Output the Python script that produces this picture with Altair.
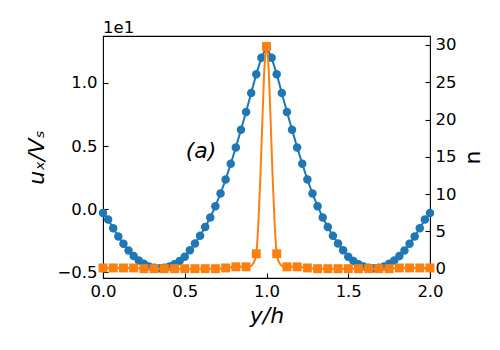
import altair as alt
import pandas as pd

# ---- data ----
blue_y = [0.0, 0.03125, 0.0625, 0.09375, 0.125, 0.15625, 0.1875, 0.21875, 0.25, 0.28125,
          0.3125, 0.34375, 0.375, 0.40625, 0.4375, 0.46875, 0.5, 0.53125, 0.5625, 0.59375,
          0.625, 0.65625, 0.6875, 0.71875, 0.75, 0.78125, 0.8125, 0.84375, 0.875, 0.90625,
          0.9375, 0.96875, 1.0, 1.03125, 1.0625, 1.09375, 1.125, 1.15625, 1.1875, 1.21875,
          1.25, 1.28125, 1.3125, 1.34375, 1.375, 1.40625, 1.4375, 1.46875, 1.5, 1.53125,
          1.5625, 1.59375, 1.625, 1.65625, 1.6875, 1.71875, 1.75, 1.78125, 1.8125, 1.84375,
          1.875, 1.90625, 1.9375, 1.96875, 2.0]
blue_u = [-0.03, -0.08, -0.15, -0.215, -0.273, -0.326, -0.37, -0.405, -0.432, -0.452,
          -0.463, -0.467, -0.463, -0.453, -0.435, -0.41, -0.375, -0.325, -0.27, -0.21,
          -0.14, -0.065, 0.025, 0.125, 0.235, 0.36, 0.49, 0.63, 0.77, 0.92,
          1.07, 1.2, 1.285, 1.2, 1.07, 0.92, 0.77, 0.63, 0.49, 0.36,
          0.235, 0.125, 0.025, -0.065, -0.14, -0.21, -0.27, -0.325, -0.375, -0.41,
          -0.435, -0.453, -0.463, -0.467, -0.463, -0.452, -0.432, -0.405, -0.37, -0.326,
          -0.273, -0.215, -0.15, -0.08, -0.03]

sq_y = [0.0, 0.0625, 0.125, 0.1875, 0.25, 0.3125, 0.375, 0.4375, 0.5, 0.5625, 0.625,
        0.6875, 0.75, 0.8125, 0.875, 0.9375, 1.0, 1.0625, 1.125, 1.1875, 1.25, 1.3125,
        1.375, 1.4375, 1.5, 1.5625, 1.625, 1.6875, 1.75, 1.8125, 1.875, 1.9375, 2.0]
sq_n = [0.1, 0.1, 0.1, 0.1, 0.0, 0.0, 0.0, 0.0, 0.0, 0.0, 0.0,
        0.0, 0.1, 0.25, 0.25, 2.0, 29.8, 2.0, 0.25, 0.25, 0.1, 0.0,
        0.0, 0.0, 0.0, 0.0, 0.0, 0.0, 0.0, 0.1, 0.1, 0.1, 0.1]

line_y = [0.0, 0.0625, 0.125, 0.1875, 0.25, 0.3125, 0.375, 0.4375, 0.5, 0.5625, 0.625,
          0.6875, 0.75, 0.8125, 0.875, 0.9, 0.9125, 0.925, 0.9375, 0.95, 0.9625, 0.975,
          0.9875, 1.0, 1.0125, 1.025, 1.0375, 1.05, 1.0625, 1.075, 1.0875, 1.1, 1.125,
          1.1875, 1.25, 1.3125, 1.375, 1.4375, 1.5, 1.5625, 1.625, 1.6875, 1.75, 1.8125,
          1.875, 1.9375, 2.0]
line_n = [0.1, 0.1, 0.1, 0.1, 0.0, 0.0, 0.0, 0.0, 0.0, 0.0, 0.0,
          0.0, 0.1, 0.25, 0.25, 0.3, 0.5, 0.95, 2.0, 6.0, 12.3, 20.0,
          27.0, 29.8, 27.0, 20.0, 12.3, 6.0, 2.0, 0.95, 0.5, 0.3, 0.25,
          0.25, 0.1, 0.0, 0.0, 0.0, 0.0, 0.0, 0.0, 0.0, 0.0, 0.1,
          0.1, 0.1, 0.1]

x_ticks = [0.0, 0.5, 1.0, 1.5, 2.0]
left_ticks = [-0.5, 0.0, 0.5, 1.0]
right_ticks = [0, 5, 10, 15, 20, 25, 30]

blue = pd.DataFrame({"y": blue_y, "u": blue_u})
orange_sq = pd.DataFrame({"y": sq_y, "n": sq_n})
orange_line = pd.DataFrame({"y": line_y, "n": line_n})
label_df = pd.DataFrame({"y": [0.6], "u": [0.46], "t": ["(a)"]})

BLUE = "#1f77b4"
ORANGE = "#ff7f0e"
FONT = "DejaVu Sans"
LFS = 16.5
TFS = 22

xscale = alt.Scale(domain=[0, 2], nice=False, zero=False)
lscale = alt.Scale(domain=[-0.544, 1.372], nice=False, zero=False)
rscale = alt.Scale(domain=[-1.25, 31.2], nice=False, zero=False)

x_lab_axis = alt.Axis(values=x_ticks, ticks=False, domain=False, grid=False, labelPadding=5,
                      format=".1f", title="y/h", titleFontStyle="italic", titlePadding=6,
                      orient="bottom", labelFlush=False)
x_tick_axis = alt.Axis(values=x_ticks, ticks=True, tickSize=5, domain=False, grid=False,
                       labels=False, title="", offset=-5, orient="bottom", tickColor="black",
                       tickWidth=1.1)
l_lab_axis = alt.Axis(values=left_ticks, ticks=False, domain=False, grid=False, labelPadding=6,
                      format=".1f", title="uₓ/Vₛ", titleFontStyle="italic", titlePadding=8,
                      orient="left")
l_tick_axis = alt.Axis(values=left_ticks, ticks=True, tickSize=5, domain=False, grid=False,
                       labels=False, title="", offset=-5, orient="left", tickColor="black",
                       tickWidth=1.1)
r_lab_axis = alt.Axis(values=right_ticks, ticks=False, domain=False, grid=False, labelPadding=5,
                      title="n", titleAngle=270, titleBaseline="top", titlePadding=7,
                      orient="right")
r_tick_axis = alt.Axis(values=right_ticks, ticks=True, tickSize=5, domain=False, grid=False,
                       labels=False, title="", offset=-5, orient="right", tickColor="black",
                       tickWidth=1.1)

l1 = alt.Chart(blue).mark_line(color=BLUE, strokeWidth=2).encode(
    x=alt.X("y:Q", scale=xscale, axis=x_lab_axis),
    y=alt.Y("u:Q", scale=lscale, axis=l_lab_axis),
)
l2 = alt.Chart(blue).mark_circle(color=BLUE, size=72, opacity=1).encode(
    x=alt.X("y:Q", scale=xscale, axis=x_tick_axis),
    y=alt.Y("u:Q", scale=lscale, axis=l_tick_axis),
)
l3 = alt.Chart(orange_line).mark_line(color=ORANGE, strokeWidth=2, interpolate="monotone").encode(
    x=alt.X("y:Q", scale=xscale, axis=None),
    y=alt.Y("n:Q", scale=rscale, axis=r_lab_axis),
)
l4 = alt.Chart(orange_sq).mark_square(color=ORANGE, size=80, opacity=1).encode(
    x=alt.X("y:Q", scale=xscale, axis=None),
    y=alt.Y("n:Q", scale=rscale, axis=r_tick_axis),
)
l5 = alt.Chart(label_df).mark_text(font=FONT, fontSize=TFS, fontStyle="italic", color="black").encode(
    x=alt.X("y:Q", scale=xscale, axis=None),
    y=alt.Y("u:Q", scale=lscale, axis=None),
    text="t:N",
)

chart = alt.layer(l1, l2, l3, l4, l5).resolve_scale(
    y="independent"
).resolve_axis(
    x="independent", y="independent"
).properties(
    width=327,
    height=242,
    autosize=alt.AutoSizeParams(type="none"),
    padding={"left": 95, "top": 28, "right": 62, "bottom": 64},
    title=alt.TitleParams(text="1e1", anchor="start", frame="group", font=FONT,
                          fontSize=LFS, fontWeight="normal", offset=0, color="black"),
).configure_view(
    stroke="black", strokeWidth=1.1
).configure_axis(
    labelFont=FONT, labelFontSize=LFS, labelColor="black",
    titleFont=FONT, titleFontSize=TFS, titleFontWeight="normal", titleColor="black",
)

chart.save("out.html", embed_options={"renderer": "svg", "actions": False})
